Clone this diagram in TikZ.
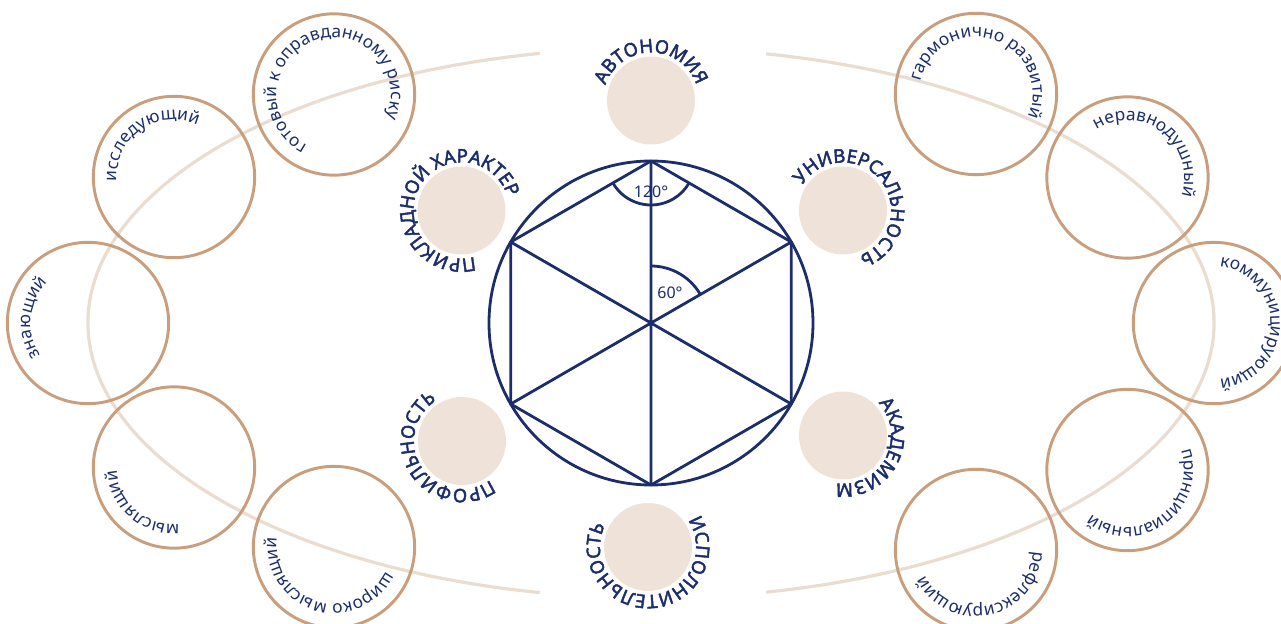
\documentclass[tikz,border=0pt]{standalone}
\usepackage{fontspec}
\setmainfont{Noto Sans}
\newfontfamily\capfam{Noto Sans}[FakeBold=2.4]
\usetikzlibrary{decorations.text}

\definecolor{navy}{RGB}{27,45,107}
\definecolor{sand}{RGB}{238,226,217}
\definecolor{clay}{RGB}{201,158,124}
\definecolor{trackcol}{RGB}{234,220,207}

\newcommand{\capfont}{\capfam\fontsize{14}{16}\selectfont}
\newcommand{\wordfont}{\fontsize{13}{15}\selectfont}
% centre node, radius, middle angle, font, text
\newcommand{\ringtext}[5]{%
  \path[decorate,decoration={text along path,text align=center,text color=navy,
      text={|#4|#5}}]
    ([shift={(#3+170:#2)}]#1.center) arc[start angle=#3+170,end angle=#3-170,radius=#2];}

\begin{document}
\begin{tikzpicture}[x=0.75pt,y=0.75pt,
  disc/.style={circle,fill=sand,minimum size=66pt,inner sep=0pt},
  ring/.style={circle,draw=clay,line width=2.2pt,minimum size=121pt,inner sep=0pt},
  hexline/.style={draw=navy,line width=2.1pt,line join=round},
  trackline/.style={draw=trackcol,line width=2.4pt},
  deg/.style={text=navy,font=\fontsize{12}{14}\selectfont,inner sep=1pt}]
\useasboundingbox (-651,-301) rectangle (630,323);
\draw[trackline] (101.4:563 and 275) arc[start angle=101.4,end angle=258.6,x radius=563,y radius=275];
\draw[trackline] (78.2:563 and 275) arc[start angle=78.2,end angle=-78.2,x radius=563,y radius=275];

\node[ring] (gotov) at (-317,228.5) {};
\node[ring] (issled) at (-477,146) {};
\node[ring] (znay) at (-563,0) {};
\node[ring] (mysl) at (-477,-144.5) {};
\node[ring] (shir) at (-317,-224) {};
\node[ring] (garm) at (325,229) {};
\node[ring] (nerav) at (476.5,145.5) {};
\node[ring] (komm) at (563,0) {};
\node[ring] (princ) at (476.5,-147) {};
\node[ring] (refl) at (325,-227) {};

\ringtext{gotov}{57}{109.5}{\wordfont}{готовый к оправданному риску}
\ringtext{issled}{57}{125}{\wordfont}{исследующий}
\ringtext{znay}{57}{174.5}{\wordfont}{знающий}
\ringtext{mysl}{57}{229}{\wordfont}{мыслящий}
\ringtext{shir}{57}{-107}{\wordfont}{широко мыслящий}
\ringtext{garm}{57}{72}{\wordfont}{гармонично развитый}
\ringtext{nerav}{57}{52}{\wordfont}{неравнодушный}
\ringtext{komm}{57}{0}{\wordfont}{коммуницирующий}
\ringtext{princ}{57}{-54.5}{\wordfont}{принципиальный}
\ringtext{refl}{57}{-77.5}{\wordfont}{рефлексирующий}

\node[circle,draw=navy,line width=2.1pt,minimum size=243pt,inner sep=0pt,outer sep=0pt] (hub) at (0,0) {};
\foreach \a [count=\i] in {90,30,330,270,210,150}
  \coordinate (v\i) at (hub.\a);
\draw[hexline] (v1) -- (v2) -- (v3) -- (v4) -- (v5) -- (v6) -- cycle;
\draw[hexline] (v1) -- (v4) (v2) -- (v5) (v3) -- (v6);
\draw[hexline] ([shift={(210:44)}]v1) arc[start angle=210,end angle=330,radius=44];
\node[deg] (ang120) at (0,131) {120°};
\draw[hexline] ([shift={(90:57)}]hub.center) arc[start angle=90,end angle=30,radius=57];
\node[deg] (ang60) at (19,30) {60°};

\node[disc] (avt) at (0,222.5) {};
\node[disc] (prikl) at (-189.5,112.5) {};
\node[disc] (univ) at (192,112.5) {};
\node[disc] (prof) at (-189,-118) {};
\node[disc] (akad) at (192,-112.5) {};
\node[disc] (ispol) at (-3,-224) {};

\ringtext{avt}{48}{90}{\capfont}{АВТОНОМИЯ}
\ringtext{prikl}{48}{151}{\capfont}{ПРИКЛАДНОЙ ХАРАКТЕР}
\ringtext{univ}{48}{39}{\capfont}{УНИВЕРСАЛЬНОСТЬ}
\ringtext{akad}{48}{-28}{\capfont}{АКАДЕМИЗМ}
\ringtext{ispol}{48}{-86.5}{\capfont}{ИСПОЛНИТЕЛЬНОСТЬ}
\ringtext{prof}{48}{-146}{\capfont}{ПРОФИЛЬНОСТЬ}
\end{tikzpicture}
\end{document}
